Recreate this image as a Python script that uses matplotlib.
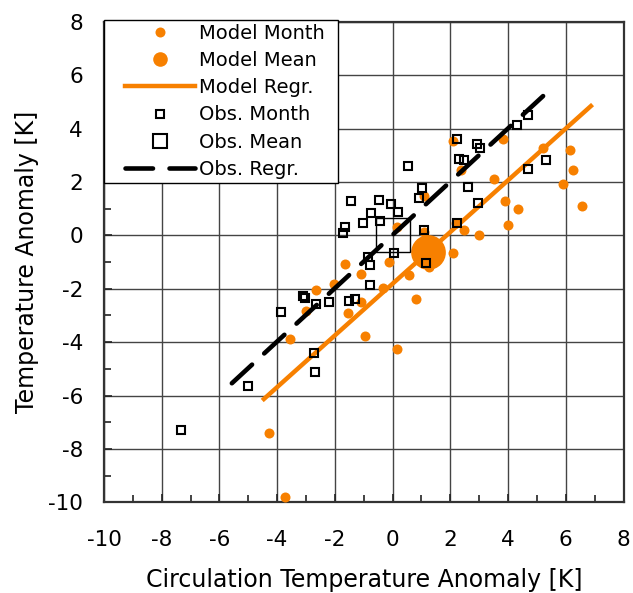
import matplotlib
matplotlib.use("Agg")
import matplotlib.pyplot as plt
from matplotlib.lines import Line2D
from matplotlib.legend_handler import HandlerLine2D
from matplotlib.ticker import MultipleLocator
import numpy as np

plt.rcParams["font.family"] = ["DejaVu Sans"]
plt.rcParams["axes.unicode_minus"] = False

ORANGE = "#F78000"

# ── Model monthly anomalies (circulation T, T)
model_x = [-4.28, -3.72, -3.55, -3.01, -2.67, -2.02, -1.66, -1.10, -0.14, -1.53,
           -1.09, -0.95, 0.14, -0.35, 0.58, 0.82, 1.27, 0.15, 1.09, 1.10,
           2.20, 2.09, 2.10, 3.84, 2.37, 5.22, 6.15, 6.24, 3.51, 5.92,
           3.89, 4.33, 6.55, 4.01, 2.48, 3.00]
model_y = [-7.42, -9.79, -3.88, -2.82, -2.05, -1.83, -1.07, -1.45, -1.00, -2.89,
           -2.48, -3.76, -4.26, -1.98, -1.50, -2.39, -1.19, 0.33, 1.48, 0.14,
           0.48, -0.67, 3.54, 3.60, 2.45, 3.29, 3.20, 2.45, 2.10, 1.92,
           1.29, 0.98, 1.11, 0.39, 0.20, 0.02]

# ── Observed monthly anomalies
obs_x = [0.55, -1.44, -0.46, -0.07, -0.75, 0.19, 0.90, 1.02, -1.01, -0.45,
         -1.66, -1.73, 1.08, 2.24, 0.06, -0.84, -0.78, 1.17, -0.77, -1.50,
         -1.31, 4.68, 4.32, 2.22, 2.91, 3.03, 2.31, 2.48, 5.32, 4.70,
         2.62, 2.97, -3.10, -3.02, -2.66, -2.20, -3.88, -2.72, -2.68, -5.01,
         -7.34]
obs_y = [2.61, 1.31, 1.33, 1.18, 0.83, 0.87, 1.39, 1.79, 0.48, 0.56,
         0.33, 0.10, 0.20, 0.45, -0.64, -0.81, -1.12, -1.04, -1.84, -2.44,
         -2.38, 4.51, 4.14, 3.60, 3.42, 3.27, 2.87, 2.83, 2.83, 2.48,
         1.80, 1.20, -2.28, -2.35, -2.58, -2.50, -2.86, -4.39, -5.13, -5.63,
         -7.29]

# ── Means
model_mean_x, model_mean_y = [1.21], [-0.61]
obs_mean_x, obs_mean_y = [0.0], [0.02]

# ── Regression lines (end points)
model_reg_x = [-4.46, 6.87]
model_reg_y = [-6.13, 4.85]
obs_reg_x = [-5.57, 5.53]
obs_reg_y = [-5.54, 5.54]


class ShiftedHandler(HandlerLine2D):
    # pushes the legend handle to the right, leaves room on the left
    def __init__(self, shift, **kw):
        super().__init__(**kw)
        self.shift = shift

    def create_artists(self, legend, orig_handle, xdescent, ydescent,
                       width, height, fontsize, trans):
        return super().create_artists(legend, orig_handle,
                                      xdescent - self.shift, ydescent,
                                      width - self.shift, height,
                                      fontsize, trans)


fig = plt.figure(figsize=(6.33, 5.93), dpi=100)
ax = fig.add_axes([0.1643, 0.153, 0.8207, 0.8099])

ax.plot(model_x, model_y, "o", color=ORANGE, ms=7.2, mew=0, zorder=3)
ax.plot(model_mean_x, model_mean_y, "o", color=ORANGE, ms=25, mew=0, zorder=4)
ax.plot(model_reg_x, model_reg_y, "-", color=ORANGE, lw=3.2, zorder=5)
ax.plot(obs_x, obs_y, "s", mfc="none", mec="black", ms=5.6, mew=1.5, zorder=6)
ax.plot(obs_mean_x, obs_mean_y, "s", mfc="none", mec="black", ms=24, mew=1.0, zorder=7)
ax.plot(obs_reg_x, obs_reg_y, color="black", lw=3.3, linestyle=(0, (6.0, 3.6)),
        dash_capstyle="round", zorder=8)

ax.set_xlim(-10, 8)
ax.set_ylim(-10, 8)
ax.xaxis.set_major_locator(MultipleLocator(2))
ax.yaxis.set_major_locator(MultipleLocator(2))
ax.xaxis.set_minor_locator(MultipleLocator(1))
ax.yaxis.set_minor_locator(MultipleLocator(1))
ax.grid(True, which="major", color="#444444", lw=1.0)
ax.set_axisbelow(True)

ax.tick_params(which="major", direction="in", length=6, width=1.2,
               labelsize=15.5, color="#222222")
ax.tick_params(which="minor", direction="in", length=5, width=1.2, color="#222222")
ax.tick_params(axis="x", which="major", pad=20)
ax.tick_params(axis="y", which="major", pad=15)

for sp in ax.spines.values():
    sp.set_color("#333333")
    sp.set_linewidth(1.6)

ax.set_xlabel("Circulation Temperature Anomaly [K]", fontsize=17, labelpad=13)
ax.set_ylabel("Temperature Anomaly [K]", fontsize=17, labelpad=7)

handles = [
    Line2D([], [], ls="none", marker="o", color=ORANGE, ms=7.2, mew=0),
    Line2D([], [], ls="none", marker="o", color=ORANGE, ms=10.5, mew=0),
    Line2D([], [], color=ORANGE, lw=3.2),
    Line2D([], [], ls="none", marker="s", mfc="none", mec="black", ms=6, mew=1.5),
    Line2D([], [], ls="none", marker="s", mfc="none", mec="black", ms=9.5, mew=1.5),
    Line2D([], [], color="black", lw=3.3, linestyle=(0, (6.0, 3.6)), dash_capstyle="round"),
]
labels = ["Model Month", "Model Mean", "Model Regr.",
          "Obs. Month", "Obs. Mean", "Obs. Regr."]
leg = ax.legend(handles, labels, loc="upper left",
                bbox_to_anchor=(0, 1.004, 0.4504, 0), mode="expand",
                borderaxespad=0, fontsize=14, handlelength=4.5,
                handletextpad=0.2, labelspacing=0.42, borderpad=0.2,
                fancybox=False, framealpha=1, edgecolor="black",
                handler_map={Line2D: ShiftedHandler(12.5)})
leg.get_frame().set_linewidth(1.0)
leg.set_zorder(20)

fig.savefig("out.png", dpi=100)
